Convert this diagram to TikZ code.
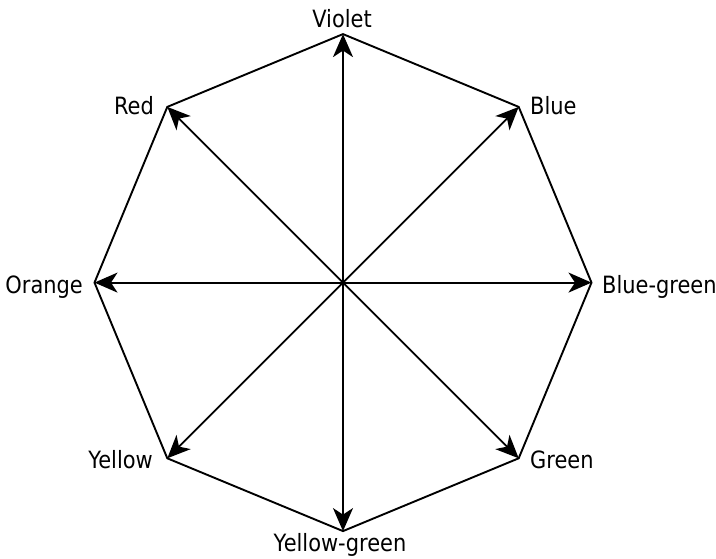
\documentclass[tikz,border=0pt]{standalone}
\usepackage{fontspec}
\setmainfont{DejaVu Sans}[FakeStretch=0.88]
\usetikzlibrary{arrows.meta}
\begin{document}
\begin{tikzpicture}[x=1pt,y=-1pt,
  edge/.style={line width=1.9pt, line join=miter},
  ray/.style={line width=1.9pt, -{Stealth[length=23pt,width=20pt,inset=6.5pt]}},
  lbl/.style={inner sep=0pt, font=\fontsize{23.8}{28}\selectfont}]
\useasboundingbox (0,0) rectangle (716,559);
\coordinate (C) at (343,282.6);
\coordinate (vi) at (343,34.1);
\coordinate (bl) at (518.7,106.9);
\coordinate (bg) at (591.5,282.6);
\coordinate (gr) at (518.7,458.3);
\coordinate (yg) at (343,531.1);
\coordinate (ye) at (167.3,458.3);
\coordinate (or) at (94.5,282.6);
\coordinate (re) at (167.3,106.9);
\draw[edge] (vi) -- (bl) -- (bg) -- (gr) -- (yg) -- (ye) -- (or) -- (re) -- cycle;
\foreach \v in {vi,bl,bg,gr,yg,ye,or,re} \draw[ray] (C) -- (\v);
\node[lbl, anchor=base] (tvi) at (342,27.3) {Violet};
\node[lbl, anchor=base west] (tbl) at (530,114.5) {Blue};
\node[lbl, anchor=base west] (tbg) at (602,294) {Blue-green};
\node[lbl, anchor=base west] (tgr) at (530,468) {Green};
\node[lbl, anchor=base] (tyg) at (340,551) {Yellow-green};
\node[lbl, anchor=base east] (tye) at (153,468) {Yellow};
\node[lbl, anchor=base east] (tor) at (83,293.5) {Orange};
\node[lbl, anchor=base east] (tre) at (154,115) {Red};
\end{tikzpicture}
\end{document}
